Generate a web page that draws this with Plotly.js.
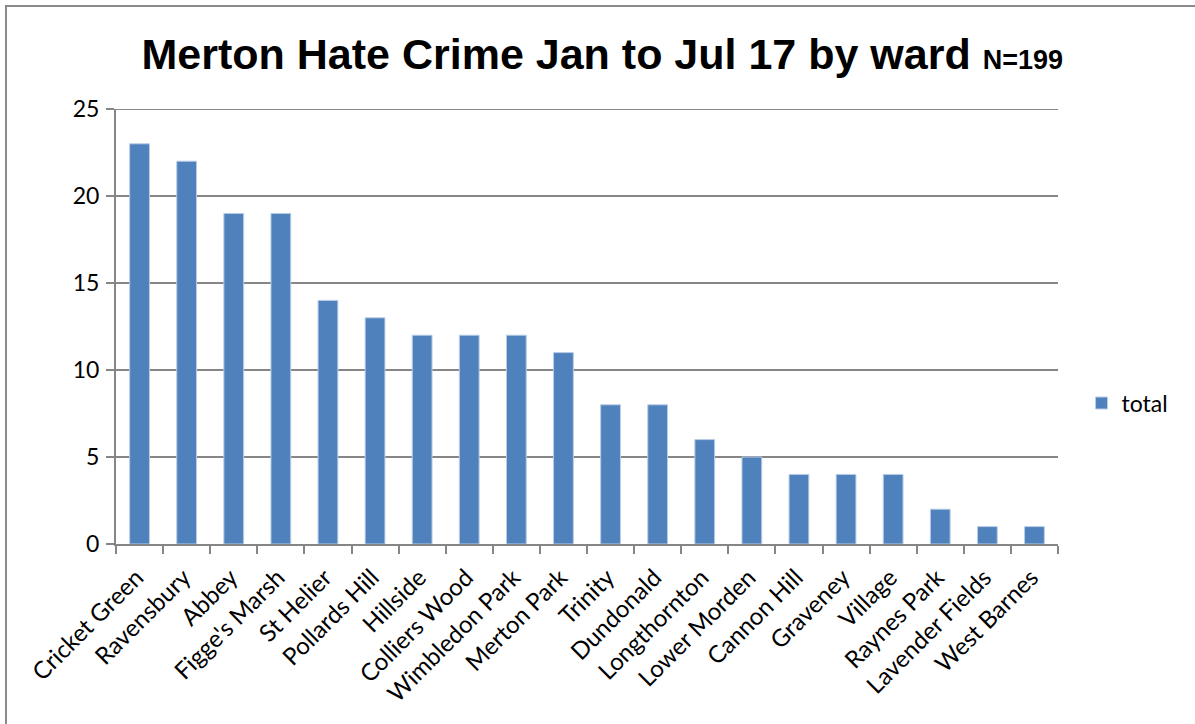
<!DOCTYPE html>
<html>
<head>
<meta charset="utf-8">
<script src="https://cdn.plot.ly/plotly-3.0.1.min.js"></script>
<style>
  html, body { margin: 0; padding: 0; background: #fff; overflow: hidden; }
  #chart { width: 1195px; height: 724px; position: absolute; left: 0; top: 0; }
  #frame { position: absolute; left: 5px; top: 5px; width: 1300px; height: 800px; border: 2px solid #8a8a8a; pointer-events: none; }
</style>
</head>
<body>
<div id="chart"></div>
<div id="frame"></div>
<script>
const wards = ["Cricket Green", "Ravensbury", "Abbey", "Figge's Marsh", "St Helier", "Pollards Hill", "Hillside", "Colliers Wood", "Wimbledon Park", "Merton Park", "Trinity", "Dundonald", "Longthornton", "Lower Morden", "Cannon Hill", "Graveney", "Village", "Raynes Park", "Lavender Fields", "West Barnes"];
const totals = [23, 22, 19, 19, 14, 13, 12, 12, 12, 11, 8, 8, 6, 5, 4, 4, 4, 2, 1, 1];
const yTicks = [0, 5, 10, 15, 20, 25];
const seriesName = "total";
const titleMain = "Merton Hate Crime Jan to Jul 17 by ward";
const titleN = "N=199";

const tickFont = { family: "Lato, 'Open Sans', sans-serif", size: 23, color: "#000" };
const xTickFont = { family: "Lato, 'Open Sans', sans-serif", size: 24, color: "#000" };

const data = [{
  type: "bar",
  x: wards,
  y: totals,
  name: seriesName,
  marker: { color: "#4F81BD", line: { color: "#B9CDE5", width: 1 } },
  showlegend: true
}];

const layout = {
  width: 1195, height: 724,
  margin: { l: 116, r: 137, t: 109, b: 180 },
  paper_bgcolor: "#fff", plot_bgcolor: "#fff",
  bargap: 0.58,
  title: {
    text: "<b>" + titleMain + " <span style='font-size:27px'>" + titleN + "</span></b>",
    font: { family: "'Liberation Sans', Arial, sans-serif", size: 43, color: "#000" },
    x: 0.504, xanchor: "center", xref: "container",
    y: 0.926, yanchor: "middle", yref: "container"
  },
  xaxis: {
    type: "category",
    tickangle: -45,
    tickfont: xTickFont,
    showline: true, linecolor: "#868686", linewidth: 2,
    ticks: "outside", tickson: "boundaries", ticklen: 8, tickcolor: "#868686", tickwidth: 2,
    showgrid: false,
    ticklabelstandoff: 8,
    ticklabelshift: -3
  },
  yaxis: {
    range: [0, 25],
    tickvals: yTicks,
    tickfont: tickFont,
    showline: true, linecolor: "#868686", linewidth: 2,
    ticks: "outside", ticklen: 8, tickcolor: "#868686", tickwidth: 2,
    showgrid: true, gridcolor: "#868686", gridwidth: 2,
    zeroline: false,
    ticklabelstandoff: 2
  },
  shapes: [{
    type: "line", xref: "paper", yref: "y",
    x0: 0, x1: 1, y0: yTicks[yTicks.length - 1], y1: yTicks[yTicks.length - 1],
    line: { color: "#868686", width: 2 }, layer: "below"
  }],
  legend: {
    x: 1.025, y: 0.324, xanchor: "left", yanchor: "middle",
    font: tickFont,
    itemwidth: 30
  }
};

Plotly.newPlot("chart", data, layout, { displayModeBar: false, staticPlot: true });
</script>
</body>
</html>
